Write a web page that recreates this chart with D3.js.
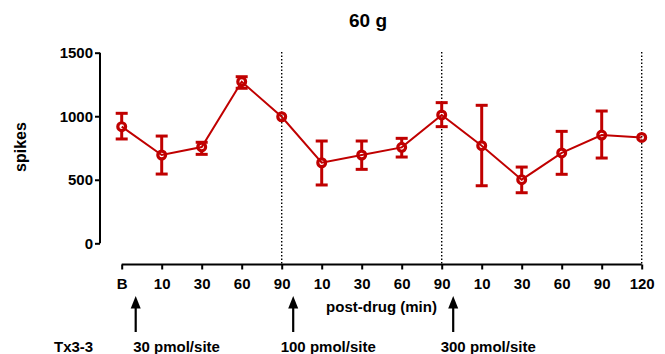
<!DOCTYPE html>
<html><head><meta charset="utf-8">
<script src="https://cdn.jsdelivr.net/npm/d3@7"></script>
<style>body{margin:0;background:#fff}text{font-family:"Liberation Sans",Arial,sans-serif;font-weight:bold}</style>
</head><body><svg id="c" width="665" height="354"></svg>
<script>
const categories = ["B","10","30","60","90","10","30","60","90","10","30","60","90","120"];
const means = [918,695,758,1272,996,634,695,755,1010,768,501,711,852,833];
const errUpper = [1023,844,795,1311,996,805,805,826,1107,1086,600,881,1041,833];
const errLower = [821,545,700,1220,996,459,582,679,918,453,398,543,671,833];
const yTicks = [0,500,1000,1500];
const dividerIdx = [4,8,13];
const doses = [{idx:0,label:"30 pmol/site"},{idx:4,label:"100 pmol/site"},{idx:8,label:"300 pmol/site"}];

const svg = d3.select("#c");
const red = "#c00000";
const FONT = "Liberation Sans, Arial, sans-serif";
const x = d3.scalePoint().domain(d3.range(categories.length)).range([121.7,641.7]);
const y = d3.scaleLinear().domain([0,1500]).range([243.3,52.7]);

// title
svg.append("text").attr("x",368).attr("y",27).attr("text-anchor","middle").attr("font-size",19).text("60 g");

// dotted dividers
dividerIdx.forEach(i=>{
  svg.append("line").attr("x1",x(i)).attr("x2",x(i)).attr("y1",52).attr("y2",264)
    .attr("stroke","#000").attr("stroke-width",1.4).attr("stroke-dasharray","1.4,2.1");
});

// y axis
const ya = svg.append("g").attr("transform","translate(100,0)")
  .call(d3.axisLeft(y).tickValues(yTicks).tickSize(5).tickPadding(2).tickFormat(d3.format("d")));
ya.select(".domain").attr("stroke-width",2).attr("d","M0,"+y(1500)+"V"+y(0));
ya.selectAll(".tick line").attr("stroke-width",2);
ya.selectAll("text").attr("font-size",15).attr("font-family",FONT).attr("font-weight","bold").attr("fill","#000");

svg.append("text").attr("transform","translate(26,147) rotate(-90)").attr("text-anchor","middle").attr("font-size",16).text("spikes");

// x axis
const xa = svg.append("g").attr("transform","translate(0,264.5)")
  .call(d3.axisBottom(x).tickSize(5).tickPadding(9).tickFormat(i=>categories[i]));
xa.select(".domain").attr("stroke-width",2).attr("d","M"+x(0)+",0H"+x(13));
xa.selectAll(".tick line").attr("stroke-width",2);
xa.selectAll("text").attr("font-size",15).attr("font-family",FONT).attr("font-weight","bold").attr("fill","#000");

svg.append("text").attr("x",381.5).attr("y",312).attr("text-anchor","middle").attr("font-size",15).text("post-drug (min)");

// arrows & dose labels
svg.append("text").attr("x",54).attr("y",351.5).attr("font-size",15).text("Tx3-3");
doses.forEach(d=>{
  const ax = x(d.idx) + (d.idx===0 ? 14 : 11.5);
  svg.append("line").attr("x1",ax).attr("x2",ax).attr("y1",305).attr("y2",332).attr("stroke","#000").attr("stroke-width",2.2);
  svg.append("path").attr("d",`M${ax},296L${ax-5},308.5L${ax+5},308.5Z`).attr("fill","#000");
  svg.append("text").attr("x",ax - (d.idx===0 ? 2.5 : 12.5)).attr("y",351.5).attr("font-size",15).text(d.label);
});

// series line
svg.append("path").datum(means.map((m,i)=>[x(i),y(m)]))
  .attr("d",d3.line()).attr("fill","none").attr("stroke",red).attr("stroke-width",2);

// error bars
const r = 3.9;
means.forEach((m,i)=>{
  const cx = x(i), cy = y(m);
  [[errUpper[i], -1],[errLower[i], 1]].forEach(([v,s])=>{
    const ey = y(v);
    const d = Math.abs(ey-cy);
    if (d > 1.5) {
      if (d > r) svg.append("line").attr("x1",cx).attr("x2",cx).attr("y1",cy+s*r).attr("y2",ey).attr("stroke",red).attr("stroke-width",3);
      svg.append("line").attr("x1",cx-6).attr("x2",cx+6).attr("y1",ey).attr("y2",ey).attr("stroke",red).attr("stroke-width",3);
    }
  });
  svg.append("circle").attr("cx",cx).attr("cy",cy).attr("r",r).attr("fill","none").attr("stroke",red).attr("stroke-width",3.2);
});
</script></body></html>
